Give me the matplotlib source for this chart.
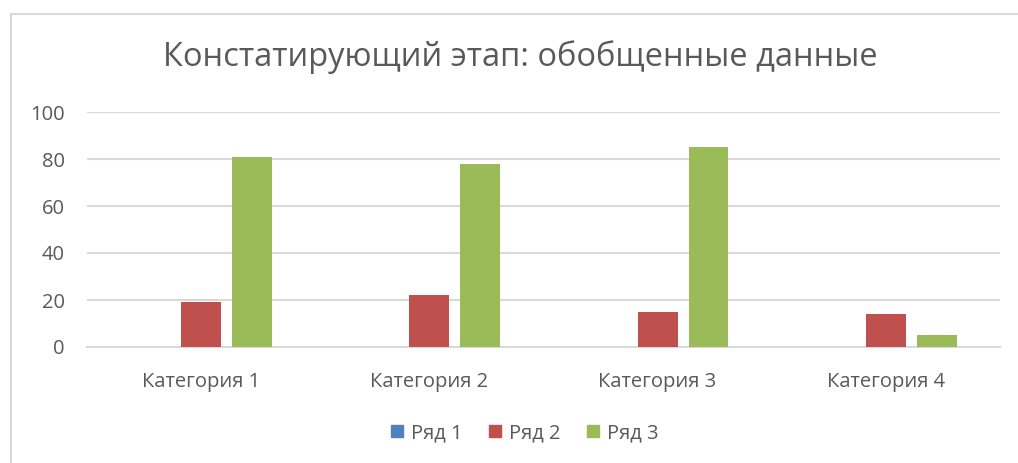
import matplotlib
matplotlib.use("Agg")
import matplotlib.pyplot as plt
from matplotlib.lines import Line2D
import numpy as np

plt.rcParams['font.family'] = ['Open Sans', 'DejaVu Sans']

categories = ["Категория 1", "Категория 2", "Категория 3", "Категория 4"]
series_names = ["Ряд 1", "Ряд 2", "Ряд 3"]
series1 = [0, 0, 0, 0]
series2 = [19, 22, 15, 14]
series3 = [81, 78, 85, 5]
colors = ["#4f81bd", "#c0504d", "#9bbb59"]
yticks = [0, 20, 40, 60, 80, 100]

W, H = 1018, 463
fig = plt.figure(figsize=(W / 100, H / 100), dpi=100)
ax = fig.add_axes([87 / W, (H - 347) / H, 913 / W, 235 / H])

x = np.arange(len(categories))
bw = 0.175
step = 0.223
for i, (vals, c, name) in enumerate(zip([series1, series2, series3], colors, series_names)):
    ax.bar(x + (i - 1) * step, vals, width=bw, color=c, label=name, zorder=3)

ax.set_xlim(-0.5, len(categories) - 0.5)
ax.set_ylim(0, 100)
ax.set_yticks(yticks)
ax.set_xticks(x)
ax.set_xticklabels(categories)
ax.grid(axis='y', color='#d9d9d9', linewidth=1.5, zorder=0)
for s in ['top', 'right', 'left']:
    ax.spines[s].set_visible(False)
ax.spines['bottom'].set_color('#d9d9d9')
ax.spines['bottom'].set_linewidth(1.5)
ax.tick_params(axis='both', length=0, labelsize=14.5, labelcolor='#595959')
ax.tick_params(axis='x', pad=18)
ax.tick_params(axis='y', pad=16)

fig.text(520 / W, 1 - 57 / H, "Констатирующий этап: обобщенные данные",
         ha='center', va='center', fontsize=23.5, color='#595959')

handles = [plt.Rectangle((0, 0), 1, 1, color=c) for c in colors]
fig.legend(handles, series_names, loc='center', bbox_to_anchor=(525 / W, 1 - 433 / H),
           ncol=3, frameon=False, fontsize=14.5, labelcolor='#595959',
           handlelength=0.6, handleheight=0.6, handletextpad=0.4, columnspacing=1.3)

fig.add_artist(Line2D([11 / W, 1], [1 - 14 / H, 1 - 14 / H], color='#d9d9d9', linewidth=1.5,
                      transform=fig.transFigure))
fig.add_artist(Line2D([11 / W, 11 / W], [0, 1 - 14 / H], color='#d9d9d9', linewidth=1.5,
                      transform=fig.transFigure))

fig.savefig("out.png", dpi=100, facecolor='white')
